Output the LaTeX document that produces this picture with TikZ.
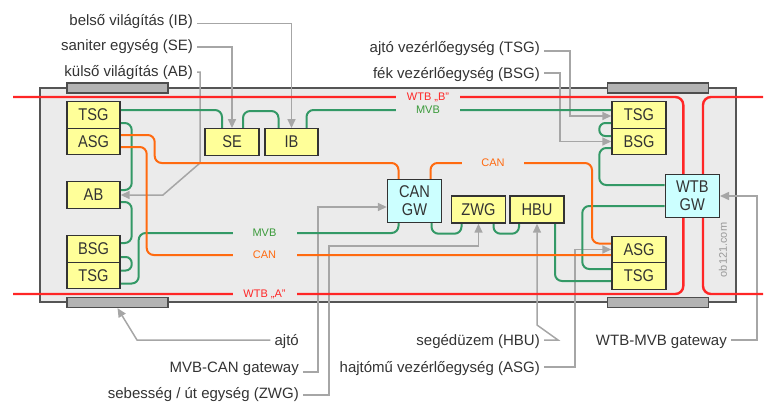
\documentclass[tikz,border=0pt]{standalone}
\usepackage{fontspec}
\setmainfont{Liberation Sans}
\newfontfamily\boxfont[FakeStretch=0.86]{Liberation Sans}
\usetikzlibrary{arrows.meta,calc}
\pgfdeclarelayer{back}
\pgfdeclarelayer{mid}
\pgfsetlayers{back,mid,main}
\definecolor{bodyc}{HTML}{EBEBEB}
\definecolor{bodyline}{HTML}{555555}
\definecolor{doorfill}{HTML}{B3B3B3}
\definecolor{doorline}{HTML}{4D4D4D}
\definecolor{unitfill}{HTML}{FFFF99}
\definecolor{gwfill}{HTML}{CCFFFF}
\definecolor{boxline}{HTML}{333333}
\definecolor{mvbc}{HTML}{339966}
\definecolor{mvbtxt}{HTML}{3A9A3A}
\definecolor{canc}{HTML}{FF6A10}
\definecolor{wtbc}{HTML}{FF2626}
\definecolor{ptrc}{HTML}{A6A6A6}
\definecolor{txt}{HTML}{333333}
\definecolor{wmc}{HTML}{999999}
\tikzset{
 unit/.style={draw=boxline, line width=1.4pt, fill=unitfill, inner sep=0pt, minimum width=53pt, minimum height=26.5pt, font=\boxfont\fontsize{17}{18}\selectfont, text=txt},
 gw/.style={unit, fill=gwfill, minimum height=43pt, align=center},
 door/.style={draw=doorline, fill=doorfill, line width=1.2pt, minimum width=101pt, minimum height=10pt, inner sep=0pt},
 mvbline/.style={draw=mvbc, line width=2pt, rounded corners=7pt},
 canline/.style={draw=canc, line width=2pt, rounded corners=7pt},
 wtbline/.style={draw=wtbc, line width=2.4pt, rounded corners=8pt},
 pointer/.style={draw=ptrc, line width=1.5pt, -{Triangle[length=9pt,width=8pt]}},
 callout/.style={font=\fontsize{15}{17}\selectfont, text=txt, inner sep=4pt},
 buslabel/.style={fill=bodyc, inner sep=0pt, minimum height=9pt, minimum width=64pt, font=\fontsize{11}{12}\selectfont},
}
\begin{document}
\begin{tikzpicture}[x=1pt,y=-1pt]
\useasboundingbox (0,0) rectangle (780,415);
\begin{pgfonlayer}{back}
% car body
\draw[draw=bodyline, fill=bodyc, line width=1.6pt] (40,88) rectangle (736,302);
% doors
\node[door] (doorTL) at (117.5,88) {};
\node[door] (doorTR) at (658,88) {};
\node[door] (doorBL) at (117.5,302.5) {};
\node[door] (doorBR) at (658,302.5) {};
\end{pgfonlayer}
% end points of the train bus
\coordinate (wtbBl) at (13,97);
\coordinate (wtbBr) at (763,97);
\coordinate (wtbAl) at (13,294);
\coordinate (wtbAr) at (763,294);
% units
\node[unit] (tsgL) at (93.5,115) {TSG};
\node[unit] (asgL) at (93.5,141.5) {ASG};
\node[unit] (ab) at (93.5,195) {AB};
\node[unit] (bsgL) at (93.5,249) {BSG};
\node[unit] (tsgL2) at (93.5,275.5) {TSG};
\node[unit, minimum width=54pt] (se) at (232,142) {SE};
\node[unit] (ib) at (291.5,142) {IB};
\node[gw, minimum width=54pt] (cangw) at (414.5,201) {CAN\\GW};
\node[unit, minimum width=54pt, minimum height=27pt] (zwg) at (478.5,209.5) {ZWG};
\node[unit, minimum width=54pt, minimum height=27pt] (hbu) at (537,209.5) {HBU};
\node[unit, minimum width=54pt] (tsgR) at (639,115) {TSG};
\node[unit, minimum width=54pt] (bsgR) at (639,141.5) {BSG};
\node[unit, minimum width=54pt] (asgR) at (639,249.5) {ASG};
\node[unit, minimum width=54pt] (tsgR2) at (639,276) {TSG};
\node[gw, minimum width=54pt] (wtbgw) at (692.3,196) {WTB\\GW};
% callouts
\node[callout, anchor=east] (lIB) at (197,21.5) {belső világítás (IB)};
\node[callout, anchor=east] (lSE) at (197,47) {saniter egység (SE)};
\node[callout, anchor=east] (lAB) at (197,73) {külső világítás (AB)};
\node[callout, anchor=east] (lTSG) at (544,48.5) {ajtó vezérlőegység (TSG)};
\node[callout, anchor=east] (lBSG) at (544,74.5) {fék vezérlőegység (BSG)};
\node[callout, anchor=east] (lAjto) at (303,342) {ajtó};
\node[callout, anchor=east] (lMvbCan) at (303,369) {MVB-CAN gateway};
\node[callout, anchor=east] (lZWG) at (303,395) {sebesség / út egység (ZWG)};
\node[callout, anchor=east] (lHBU) at (544,342) {segédüzem (HBU)};
\node[callout, anchor=east] (lASG) at (544,369) {hajtómű vezérlőegység (ASG)};
\node[callout, anchor=east] (lWTB) at (731,342) {WTB-MVB gateway};
\begin{pgfonlayer}{mid}
% pointers
\draw[pointer] ([yshift=-2pt]lIB.east) -| (ib.north);
\draw[pointer] (lSE.east) -| (se.north);
\draw[pointer] ([yshift=1pt]lAB.east) -- (200,72) -- (200,163) -- (163,195) -- (ab.east);
\draw[pointer] ([yshift=-2.5pt]lTSG.east) -- (570,51) |- ([yshift=-1pt]tsgR.west);
\draw[pointer] ([yshift=1.5pt]lBSG.east) -- (560,73) |- (bsgR.west);
\draw[pointer] ([yshift=2pt]lAjto.west) -- (137,340) -- (doorBL.south);
\draw[pointer] ([yshift=-3pt]lMvbCan.east) -- (318,372) |- ([yshift=-6pt]cangw.west);
\draw[pointer] (lZWG.east) -- (329,395) -- (329,246) -| (zwg.south);
\draw[pointer] ([yshift=2pt]lHBU.east) -- (558,340) -- (537,325) -- (hbu.south);
\draw[pointer] ([yshift=2pt]lASG.east) -- (575,367) |- (asgR.west);
\draw[pointer] ([yshift=2pt]lWTB.east) -- (757,340) |- (wtbgw.east);
% WTB
\draw[wtbline] (wtbBl) -| ([xshift=-9pt]wtbgw.north);
\draw[wtbline] ([xshift=10.7pt]wtbgw.north) |- (wtbBr);
\draw[wtbline] (wtbAl) -| ([xshift=-9pt]wtbgw.south);
\draw[wtbline] ([xshift=10.7pt]wtbgw.south) |- (wtbAr);
% MVB
\draw[mvbline] ([yshift=5pt]tsgL.east) -| ([xshift=-10pt]se.north);
\draw[mvbline] ([xshift=11pt]se.north) -- ++(0,-17) -| ([xshift=-13pt]ib.north);
\draw[mvbline] ([xshift=15pt]ib.north) |- ([yshift=5pt]tsgR.west);
\draw[mvbline] ([yshift=-8pt]tsgL.east) -- ++(11,0) |- ([yshift=5pt]ab.east);
\draw[mvbline] ([yshift=-7pt]ab.east) -- ++(11,0) |- ([yshift=6pt]bsgL.east);
\draw[mvbline, rounded corners=6pt] ([yshift=-8pt]bsgL.east) -- ++(11,0) |- ([yshift=5pt]tsgL2.east);
\draw[mvbline] ([yshift=-8pt]tsgL2.east) -- ++(18,0) -- ++(0,-50.5) -| ([xshift=-16pt]cangw.south);
\draw[mvbline] ([xshift=17pt]cangw.south) -- ++(0,10.5) -| ([xshift=-17pt]zwg.south);
\draw[mvbline] ([xshift=15pt]zwg.south) -- ++(0,10) -| ([xshift=-18pt]hbu.south);
\draw[mvbline] ([xshift=18pt]hbu.south) |- ([yshift=-5pt]tsgR2.west);
\draw[mvbline] ([yshift=7pt]tsgR2.west) -- ++(-29,0) |- ([yshift=-10pt]wtbgw.west);
\draw[mvbline, rounded corners=6pt] ([yshift=-8pt]tsgR.west) -- ++(-12,0) |- ([yshift=5.5pt]bsgR.west);
\draw[mvbline] ([yshift=-6.5pt]bsgR.west) -- ++(-12,0) |- ([yshift=11pt]wtbgw.west);
% CAN
\draw[canline] ([yshift=6.5pt]asgL.east) -- ++(34,0) -- ++(0,28) -| ([xshift=-16pt]cangw.north);
\draw[canline] ([yshift=-5.5pt]asgL.east) -- ++(26,0) |- ([yshift=-5.5pt]asgR.west);
\draw[canline] ([xshift=16pt]cangw.north) |- (592,163) |- ([yshift=6pt]asgR.west);
% bus labels
\node[buslabel, text=wtbc] (lblWB) at (428,97) {WTB „B”};
\node[buslabel, text=mvbtxt] (lblMT) at (428,110) {MVB};
\node[buslabel, text=mvbtxt] (lblMB) at (264.5,233) {MVB};
\node[buslabel, text=canc] (lblCB) at (264.5,254.5) {CAN};
\node[buslabel, text=wtbc] (lblWA) at (264.5,294) {WTB „A”};
\node[buslabel, text=canc, minimum width=62pt] (lblCT) at (493,163) {CAN};
% watermark
\node[rotate=90, text=wmc, font=\fontsize{11}{12}\selectfont] (wm) at (723,250) {ob121.com};
\end{pgfonlayer}
\end{tikzpicture}
\end{document}
